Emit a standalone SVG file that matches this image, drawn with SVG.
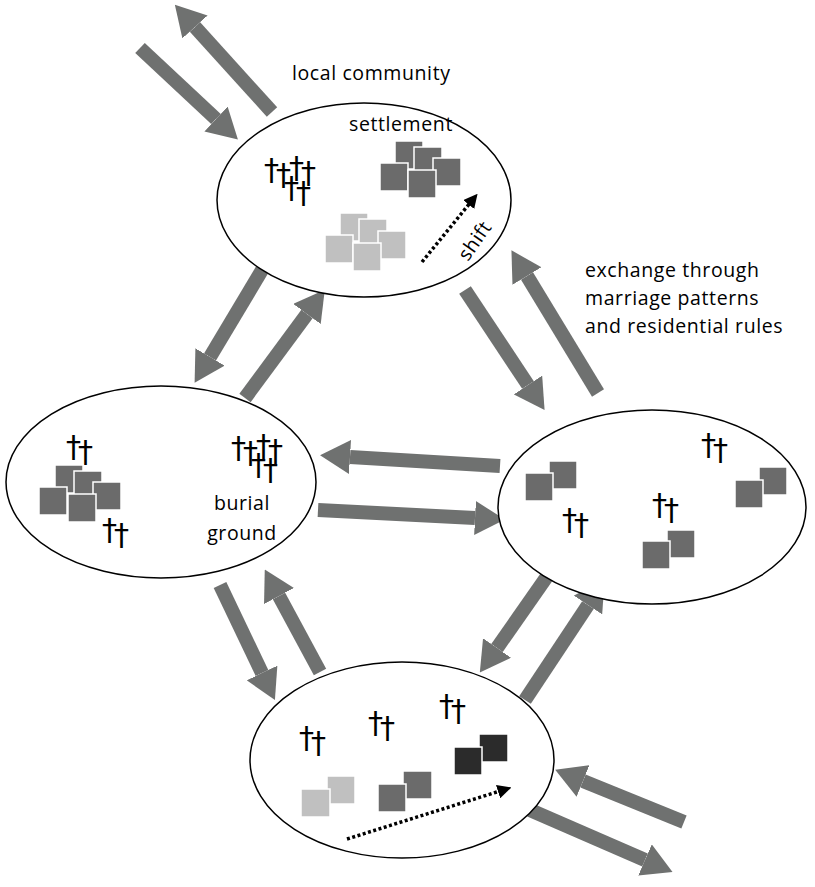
<svg xmlns="http://www.w3.org/2000/svg" width="815" height="887" viewBox="0 0 815 887">
<style>
.e{fill:#fff;stroke:#000;stroke-width:1.5}
.a{stroke:#6f7170;stroke-width:14;fill:none;marker-end:url(#h)}
.t{font-family:"Open Sans","Liberation Sans",sans-serif;font-size:19.5px;letter-spacing:0.6px;fill:#000}
.c{font-family:"DejaVu Sans","Liberation Sans",sans-serif;font-size:30px;fill:#000}
.d{fill:#6b6b6b;stroke:#fff;stroke-width:1.5}
.l{fill:#c0c0c0;stroke:#fff;stroke-width:1.5}
.k{fill:#2b2b2b;stroke:#fff;stroke-width:1.5}
.s{stroke:#000;stroke-width:3.5;stroke-dasharray:3 2.5;fill:none;marker-end:url(#p)}
</style>
<defs>
<marker id="h" markerUnits="userSpaceOnUse" viewBox="0 0 30 34" markerWidth="30" markerHeight="34" refX="0" refY="17" orient="auto"><path d="M0,0 L30,17 L0,34 Z" fill="#6f7170"/></marker>
<marker id="p" markerUnits="userSpaceOnUse" viewBox="0 0 14 14" markerWidth="14" markerHeight="14" refX="2" refY="7" orient="auto"><path d="M0,0 L14,7 L0,14 Z" fill="#000"/></marker>
</defs>
<rect width="815" height="887" fill="#fff"/>
<g id="connectors">
<line class="a" x1="272" y1="112" x2="195" y2="27"/>
<line class="a" x1="140" y1="48" x2="216" y2="119"/>
<line class="a" x1="262" y1="270" x2="210" y2="357"/>
<line class="a" x1="245" y1="398" x2="307" y2="314"/>
<line class="a" x1="465" y1="290" x2="528" y2="385"/>
<line class="a" x1="598" y1="393" x2="527" y2="276"/>
<line class="a" x1="500" y1="466" x2="350" y2="457"/>
<line class="a" x1="318" y1="510" x2="475" y2="518"/>
<line class="a" x1="220" y1="585" x2="262" y2="673"/>
<line class="a" x1="320" y1="672" x2="279" y2="596"/>
<line class="a" x1="555" y1="565" x2="497" y2="648"/>
<line class="a" x1="525" y1="700" x2="588" y2="605"/>
<line class="a" x1="684" y1="822" x2="583" y2="781"/>
<line class="a" x1="530" y1="810" x2="645" y2="860"/>
</g>
<g id="top">
<ellipse class="e" cx="364" cy="200" rx="147" ry="97"/>
<text class="t" x="349" y="131">settlement</text>
<text class="c"><tspan x="264" y="180">†</tspan><tspan x="276" y="185">†</tspan><tspan x="289" y="178">†</tspan><tspan x="301" y="183">†</tspan><tspan x="284" y="198">†</tspan><tspan x="296" y="203">†</tspan></text>
<rect class="d" x="395" y="141" width="28" height="28"/><rect class="d" x="414" y="147" width="28" height="28"/><rect class="d" x="433" y="158" width="28" height="28"/><rect class="d" x="380" y="163" width="28" height="28"/><rect class="d" x="408" y="170" width="28" height="28"/>
<rect class="l" x="340" y="213" width="28" height="28"/><rect class="l" x="359" y="219" width="28" height="28"/><rect class="l" x="378" y="231" width="28" height="28"/><rect class="l" x="325" y="235" width="28" height="28"/><rect class="l" x="353" y="243" width="28" height="28"/>
<line class="s" x1="422" y1="262" x2="470" y2="203"/>
<text class="t" transform="translate(468,262) rotate(-55)">shift</text>
</g>
<g id="left">
<ellipse class="e" cx="161" cy="482" rx="155" ry="96"/>
<text class="c"><tspan x="66" y="457">†</tspan><tspan x="78" y="462">†</tspan><tspan x="102" y="540">†</tspan><tspan x="114" y="545">†</tspan></text>
<text class="c"><tspan x="231" y="458">†</tspan><tspan x="243" y="463">†</tspan><tspan x="256" y="456">†</tspan><tspan x="268" y="461">†</tspan><tspan x="251" y="475">†</tspan><tspan x="263" y="480">†</tspan></text>
<rect class="d" x="55" y="465" width="28" height="28"/><rect class="d" x="74" y="471" width="28" height="28"/><rect class="d" x="93" y="482" width="28" height="28"/><rect class="d" x="39" y="487" width="28" height="28"/><rect class="d" x="68" y="494" width="28" height="28"/>
<text class="t" x="242" y="510" text-anchor="middle">burial</text>
<text class="t" x="242" y="540" text-anchor="middle">ground</text>
</g>
<g id="right">
<ellipse class="e" cx="652" cy="507" rx="154" ry="97"/>
<rect class="d" x="549" y="461" width="28" height="28"/><rect class="d" x="525" y="473" width="28" height="28"/>
<rect class="d" x="759" y="467" width="28" height="28"/><rect class="d" x="735" y="480" width="28" height="28"/>
<rect class="d" x="667" y="530" width="28" height="28"/><rect class="d" x="642" y="541" width="28" height="28"/>
<text class="c"><tspan x="562" y="530">†</tspan><tspan x="574" y="535">†</tspan><tspan x="652" y="515">†</tspan><tspan x="664" y="520">†</tspan><tspan x="701" y="455">†</tspan><tspan x="713" y="460">†</tspan></text>
</g>
<g id="bottom">
<ellipse class="e" cx="402" cy="760" rx="152" ry="98"/>
<text class="c"><tspan x="299" y="748">†</tspan><tspan x="311" y="753">†</tspan><tspan x="368" y="733">†</tspan><tspan x="380" y="738">†</tspan><tspan x="439" y="716">†</tspan><tspan x="451" y="721">†</tspan></text>
<rect class="l" x="327" y="776" width="28" height="28"/><rect class="l" x="301" y="789" width="29" height="28"/>
<rect class="d" x="403" y="771" width="29" height="28"/><rect class="d" x="378" y="784" width="28" height="28"/>
<rect class="k" x="479" y="734" width="29" height="28"/><rect class="k" x="454" y="747" width="28" height="28"/>
<line class="s" x1="347" y1="839" x2="500" y2="791"/>
</g>
<g id="labels">
<text class="t" x="292" y="80">local community</text>
<text class="t" x="585" y="277">exchange through</text>
<text class="t" x="585" y="305">marriage patterns</text>
<text class="t" x="585" y="333">and residential rules</text>
</g>
</svg>
